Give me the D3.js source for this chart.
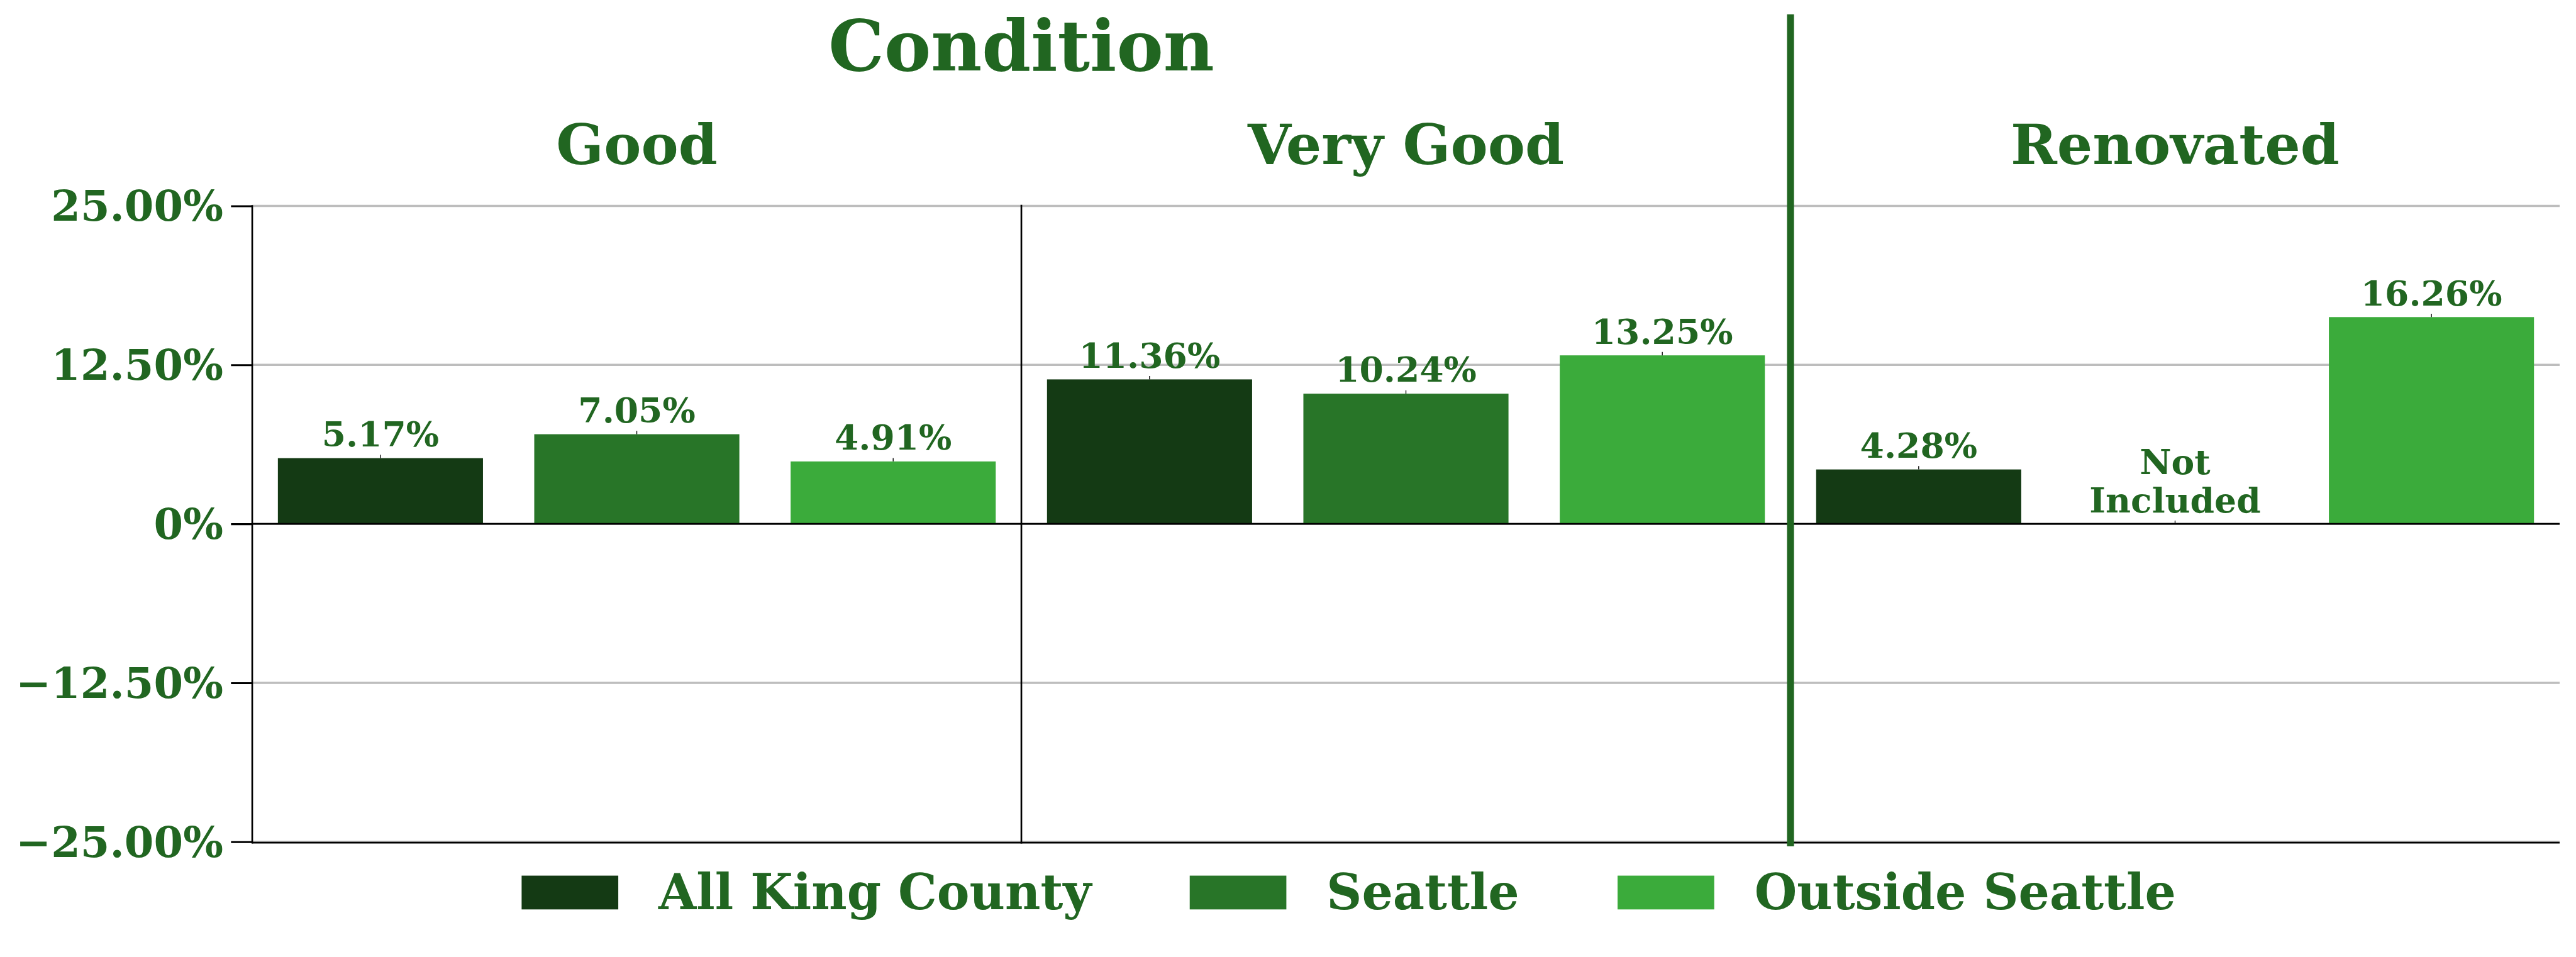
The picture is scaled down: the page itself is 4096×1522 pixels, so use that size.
<!DOCTYPE html>
<html>
<head>
<meta charset="utf-8">
<script src="https://cdn.jsdelivr.net/npm/d3@7"></script>
<style>
  html, body { margin: 0; padding: 0; background: #fff; }
  text { font-family: "DejaVu Serif", serif; font-weight: bold; }
</style>
</head>
<body>
<svg id="chart" width="4096" height="1522" viewBox="0 0 4611 1713"></svg>
<script>
// ---- data ----
const groups = ["Good", "Very Good", "Renovated"];
const series = ["All King County", "Seattle", "Outside Seattle"];
const goodValues = [5.17, 7.05, 4.91];
const veryGoodValues = [11.36, 10.24, 13.25];
const renovatedValues = [4.28, null, 16.26];
const yTicks = [-25, -12.5, 0, 12.5, 25];
const superTitle = "Condition";
const missingLabel = ["Not", "Included"];

(function () {
// ---- style ----
const colors = ["#143a14", "#287528", "#3bab3b"];
const textColor = "#216621";

const valuesByGroup = { "Good": goodValues, "Very Good": veryGoodValues, "Renovated": renovatedValues };

const svg = d3.select("#chart");
const pLeft = 451.5, pRight = 4581.7, pTop = 368.5, pBottom = 1507;

const y = d3.scaleLinear().domain([-25, 25]).range([pBottom, pTop]);
const xg = d3.scaleBand().domain(groups).range([pLeft, pRight]).paddingInner(0).paddingOuter(0);
const xs = d3.scaleBand().domain(series).range([0, xg.bandwidth()]).paddingInner(0.2).paddingOuter(0.1);

// gridlines
svg.append("g").selectAll("line").data(yTicks).join("line")
  .attr("x1", pLeft).attr("x2", pRight)
  .attr("y1", d => y(d)).attr("y2", d => y(d))
  .attr("stroke", "#bdbdbd").attr("stroke-width", 4);

// bars
const data = [];
groups.forEach(g => valuesByGroup[g].forEach((v, i) => data.push({ g, s: series[i], i, v })));

const gBars = svg.append("g");
gBars.selectAll("rect").data(data.filter(d => d.v !== null)).join("rect")
  .attr("x", d => xg(d.g) + xs(d.s))
  .attr("width", xs.bandwidth())
  .attr("y", d => y(Math.max(0, d.v)))
  .attr("height", d => Math.abs(y(d.v) - y(0)))
  .attr("fill", d => colors[d.i]);

// tiny error marks
gBars.selectAll("line.err").data(data).join("line")
  .attr("class", "err")
  .attr("x1", d => xg(d.g) + xs(d.s) + xs.bandwidth() / 2)
  .attr("x2", d => xg(d.g) + xs(d.s) + xs.bandwidth() / 2)
  .attr("y1", d => y(d.v === null ? 0 : d.v))
  .attr("y2", d => y(d.v === null ? 0 : d.v) - 6)
  .attr("stroke", "#000").attr("stroke-width", 1.5);

// value labels
svg.append("g").selectAll("text").data(data.filter(d => d.v !== null)).join("text")
  .attr("x", d => xg(d.g) + xs(d.s) + xs.bandwidth() / 2)
  .attr("y", d => y(d.v) - 21)
  .attr("text-anchor", "middle")
  .attr("font-size", 62)
  .attr("fill", textColor)
  .text(d => d.v.toFixed(2) + "%");

// missing label
data.filter(d => d.v === null).forEach(d => {
  const cx = xg(d.g) + xs(d.s) + xs.bandwidth() / 2;
  const t = svg.append("text")
    .attr("x", cx)
    .attr("text-anchor", "middle")
    .attr("font-size", 62)
    .attr("fill", textColor);
  missingLabel.forEach((line, k) => {
    t.append("tspan").attr("x", cx)
      .attr("y", y(0) - 21 - (missingLabel.length - 1 - k) * 67.7)
      .text(line);
  });
});

// zero line
svg.append("line")
  .attr("x1", pLeft).attr("x2", pRight)
  .attr("y1", y(0)).attr("y2", y(0))
  .attr("stroke", "#000").attr("stroke-width", 3);

// bottom spine
svg.append("line")
  .attr("x1", pLeft).attr("x2", pRight)
  .attr("y1", y(-25) + 1.5).attr("y2", y(-25) + 1.5)
  .attr("stroke", "#000").attr("stroke-width", 3);

// y axis
const fmt = d => d === 0 ? "0%" : d3.format(".2f")(d) + "%";
const yAxis = svg.append("g")
  .attr("transform", `translate(${pLeft},0)`)
  .call(d3.axisLeft(y).tickValues(yTicks).tickFormat(fmt).tickSize(38).tickPadding(14).tickSizeOuter(0));
yAxis.select(".domain").attr("stroke", "#000").attr("stroke-width", 3)
  .attr("d", `M0,${pTop - 1.5}V${pBottom + 3}`);
yAxis.selectAll(".tick line").attr("stroke", "#000").attr("stroke-width", 3.5);
yAxis.selectAll(".tick text")
  .attr("font-size", 75.5)
  .attr("fill", textColor)
  .attr("font-family", "DejaVu Serif")
  .attr("font-weight", "bold")
  .attr("dy", null)
  .attr("dominant-baseline", "central");

// thin divider between Good and Very Good
svg.append("line")
  .attr("x1", xg("Very Good")).attr("x2", xg("Very Good"))
  .attr("y1", pTop - 2).attr("y2", pBottom + 3)
  .attr("stroke", "#000").attr("stroke-width", 3);

// thick divider before Renovated
svg.append("line")
  .attr("x1", xg("Renovated")).attr("x2", xg("Renovated"))
  .attr("y1", 25.5).attr("y2", 1515)
  .attr("stroke", textColor).attr("stroke-width", 12.5);

// group titles
svg.append("g").selectAll("text").data(groups).join("text")
  .attr("x", d => xg(d) + xg.bandwidth() / 2)
  .attr("y", 293.5)
  .attr("text-anchor", "middle")
  .attr("font-size", 100)
  .attr("fill", textColor)
  .text(d => d);

// super title
svg.append("text")
  .attr("x", xg("Very Good"))
  .attr("y", 126)
  .attr("text-anchor", "middle")
  .attr("font-size", 125.5)
  .attr("fill", textColor)
  .text(superTitle);

// legend
const legend = svg.append("g");
let lx = 933.7;
series.forEach((s, i) => {
  legend.append("rect").attr("x", lx).attr("y", 1567.5).attr("width", 173).attr("height", 60.5).attr("fill", colors[i]);
  const t = legend.append("text").attr("x", lx + 245).attr("y", 1627.5)
    .attr("font-size", 87.4).attr("fill", textColor).text(s);
  lx = lx + 245 + t.node().getComputedTextLength() + 176;
});
})();
</script>
</body>
</html>
